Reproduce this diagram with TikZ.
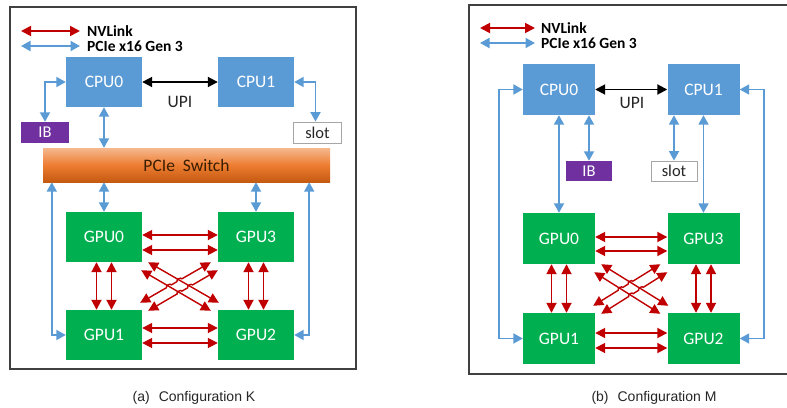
\documentclass[tikz,border=0pt]{standalone}
\usepackage{fontspec}
\setmainfont{Carlito}
\newfontfamily\capfont{Liberation Sans}
\usetikzlibrary{arrows.meta,calc}
\definecolor{cpublue}{HTML}{5B9BD5}
\definecolor{gpugreen}{HTML}{00B050}
\definecolor{ibpurple}{HTML}{7030A0}
\definecolor{nvred}{HTML}{C00000}
\definecolor{pcieblue}{HTML}{5B9BD5}
\definecolor{framegray}{HTML}{404040}
\definecolor{swtop}{HTML}{F6B98F}
\definecolor{swmid}{HTML}{ED7D31}
\definecolor{swbot}{HTML}{C55A11}
\definecolor{swtext}{HTML}{3A1E00}
\tikzset{
  box/.style={minimum width=76pt, minimum height=50pt, inner sep=0pt,
    font=\fontsize{17.5}{17.5}\selectfont, text=white},
  cpu/.style={box, fill=cpublue},
  gpu/.style={box, fill=gpugreen},
  smallbox/.style={minimum width=48pt, minimum height=21pt, inner sep=0pt,
    font=\fontsize{16.5}{16.5}\selectfont},
  ib/.style={smallbox, fill=ibpurple, text=white},
  slotbox/.style={smallbox, fill=white, draw=black!35, line width=0.9pt, text=black!85},
  pcie/.style={draw=pcieblue, line width=1.8pt, {Triangle[length=9.5pt,width=10pt]}-{Triangle[length=9.5pt,width=10pt]}},
  nv/.style={draw=nvred, line width=1.8pt, {Triangle[length=10pt,width=10pt]}-{Triangle[length=10pt,width=10pt]}},
  dg/.style={line width=1.4pt},
  upi/.style={draw=black, line width=1.9pt, {Triangle[length=10pt,width=10pt]}-{Triangle[length=10pt,width=10pt]}},
  panel/.style={draw=framegray, line width=1.5pt},
  legendtext/.style={anchor=west, inner sep=0pt, font=\bfseries\fontsize{15.5}{15.5}\selectfont, text=black},
  upitext/.style={inner sep=0pt, font=\fontsize{17.5}{17.5}\selectfont, text=black!85},
  captext/.style={inner sep=0pt, font=\capfont\fontsize{14}{14}\selectfont, text=black!85},
  switchbox/.style={minimum width=287pt, minimum height=34pt, inner sep=0pt,
    top color=swtop, bottom color=swbot, middle color=swmid,
    font=\fontsize{17.5}{17.5}\selectfont, text=swtext}
}
\newcommand\nvmesh[5]{%
  \draw[nv] ($(#1G0.east)+(0,#2)$) -- ($(#1G3.west)+(0,#2)$);
  \draw[nv] ($(#1G0.east)+(0,#3)$) -- ($(#1G3.west)+(0,#3)$);
  \draw[nv] ($(#1G1.east)+(0,#4)$) -- ($(#1G2.west)+(0,#4)$);
  \draw[nv] ($(#1G1.east)+(0,#5)$) -- ($(#1G2.west)+(0,#5)$);
  \draw[nv] ($(#1G0.south)+(-7.5,0)$) -- ($(#1G1.north)+(-7.5,0)$);
  \draw[nv] ($(#1G0.south)+(7.5,0)$) -- ($(#1G1.north)+(7.5,0)$);
  \draw[nv] ($(#1G3.south)+(-7.5,0)$) -- ($(#1G2.north)+(-7.5,0)$);
  \draw[nv] ($(#1G3.south)+(7.5,0)$) -- ($(#1G2.north)+(7.5,0)$);
  \coordinate (#1A1) at ($(#1G0.south east)+(6,0)$);
  \coordinate (#1B1) at ($(#1G2.north west)+(1,-7)$);
  \coordinate (#1A2) at ($(#1G0.south east)+(-1,8)$);
  \coordinate (#1B2) at ($(#1G2.north west)+(-7,1)$);
  \coordinate (#1A3) at ($(#1G1.north east)+(-2,-7)$);
  \coordinate (#1B3) at ($(#1G3.south west)+(-7,0)$);
  \coordinate (#1A4) at ($(#1G1.north east)+(6,1)$);
  \coordinate (#1B4) at ($(#1G3.south west)+(0,8)$);
  \draw[nv,dg] (#1A1) -- (#1B1);
  \draw[nv,dg] (#1A2) -- (#1B2);
  \draw[nv,dg] (#1A3) -- ($(#1A3)!0.372!(#1B3)$) to[bend left=90] ($(#1A3)!0.442!(#1B3)$)
     -- ($(#1A3)!0.521!(#1B3)$) to[bend left=90] ($(#1A3)!0.591!(#1B3)$) -- (#1B3);
  \draw[nv,dg] (#1A4) -- ($(#1A4)!0.415!(#1B4)$) to[bend left=90] ($(#1A4)!0.485!(#1B4)$)
     -- ($(#1A4)!0.567!(#1B4)$) to[bend left=90] ($(#1A4)!0.637!(#1B4)$) -- (#1B4);
}
\begin{document}
\begin{tikzpicture}[x=1pt,y=-1pt]
\useasboundingbox[fill=white] (0,0) rectangle (787,407);
\clip (0,0) rectangle (787,407);

% ================= (a) Configuration K =================
\draw[panel] (10,7) rectangle (356,369);
\coordinate (kLa1) at (21,31); \coordinate (kLb1) at (80,31);
\coordinate (kLa2) at (21,46); \coordinate (kLb2) at (80,46);
\draw[nv] (kLa1) -- (kLb1);
\draw[pcie] (kLa2) -- (kLb2);
\node[legendtext] (kNV) at (87,31) {NVLink};
\node[legendtext] (kPC) at (87,46) {PCIe x16 Gen 3};

\node[cpu] (kC0) at (104,82) {CPU0};
\node[cpu] (kC1) at (256,82) {CPU1};
\draw[upi] (kC0) -- (kC1);
\node[upitext] (kUPI) at (180,102) {UPI};

\node[ib] (kIB) at (45,132.5) {IB};
\node[slotbox] (kSL) at (317.5,132.5) {slot};
\node[switchbox] (kSW) at (186.5,165) {PCIe\ \ Switch};

\draw[pcie] (kC0.west) -| (kIB.north);
\draw[pcie] (kC1.east) -| ($(kSL.north)+(-2,0)$);
\draw[pcie] (kC0.south) -- (kC0.south |- kSW.north);

\node[gpu] (kG0) at (104,237) {GPU0};
\node[gpu] (kG3) at (256,237) {GPU3};
\node[gpu] (kG1) at (104,335) {GPU1};
\node[gpu] (kG2) at (256,335) {GPU2};

\draw[pcie] (kG0.north |- kSW.south) -- (kG0.north);
\draw[pcie] (kG3.north |- kSW.south) -- (kG3.north);
\draw[pcie] ($(kSW.south west)+(9,0)$) |- (kG1.west);
\draw[pcie] ($(kSW.south east)+(-21,0)$) |- (kG2.east);

\nvmesh{k}{-2}{13}{-7}{8}

\node[captext] (kCap) at (194,398) {(a)\hspace{9pt}Configuration K};

% ================= (b) Configuration M =================
\draw[panel] (469,5) rectangle (800,374);
\coordinate (mLa1) at (480,28); \coordinate (mLb1) at (535,28);
\coordinate (mLa2) at (480,43); \coordinate (mLb2) at (535,43);
\draw[nv] (mLa1) -- (mLb1);
\draw[pcie] (mLa2) -- (mLb2);
\node[legendtext] (mNV) at (541,28) {NVLink};
\node[legendtext] (mPC) at (541,43) {PCIe x16 Gen 3};

\node[cpu, minimum width=72pt, minimum height=51pt] (mC0) at (559,89.5) {CPU0};
\node[cpu, minimum width=72pt, minimum height=51pt] (mC1) at (703.5,89.5) {CPU1};
\draw[upi] (mC0) -- (mC1);
\node[upitext] (mUPI) at (632,103) {UPI};

\node[ib, minimum width=46pt, minimum height=20pt] (mIB) at (589,171) {IB};
\node[slotbox, minimum width=46pt, minimum height=20pt] (mSL) at (674,171) {slot};

\draw[pcie] (mIB.north |- mC0.south) -- (mIB.north);
\draw[pcie] (mSL.north |- mC1.south) -- (mSL.north);

\node[gpu, minimum width=72pt, minimum height=51pt] (mG0) at (559,238.5) {GPU0};
\node[gpu, minimum width=72pt, minimum height=51pt] (mG3) at (703.5,238.5) {GPU3};
\node[gpu, minimum width=72pt, minimum height=51pt] (mG1) at (559,338.5) {GPU1};
\node[gpu, minimum width=72pt, minimum height=51pt] (mG2) at (703.5,338.5) {GPU2};

\draw[pcie] (mC0.south) -- (mG0.north);
\draw[pcie] (mC1.south) -- (mG3.north);
\draw[pcie] (mC0.west) -- ++(-24,0) |- (mG1.west);
\draw[pcie] (mC1.east) -- ++(24,0) |- (mG2.east);

\nvmesh{m}{-1.5}{12.5}{-5.5}{9.5}

\node[captext] (mCap) at (654,398) {(b)\hspace{9pt}Configuration M};
\end{tikzpicture}
\end{document}
